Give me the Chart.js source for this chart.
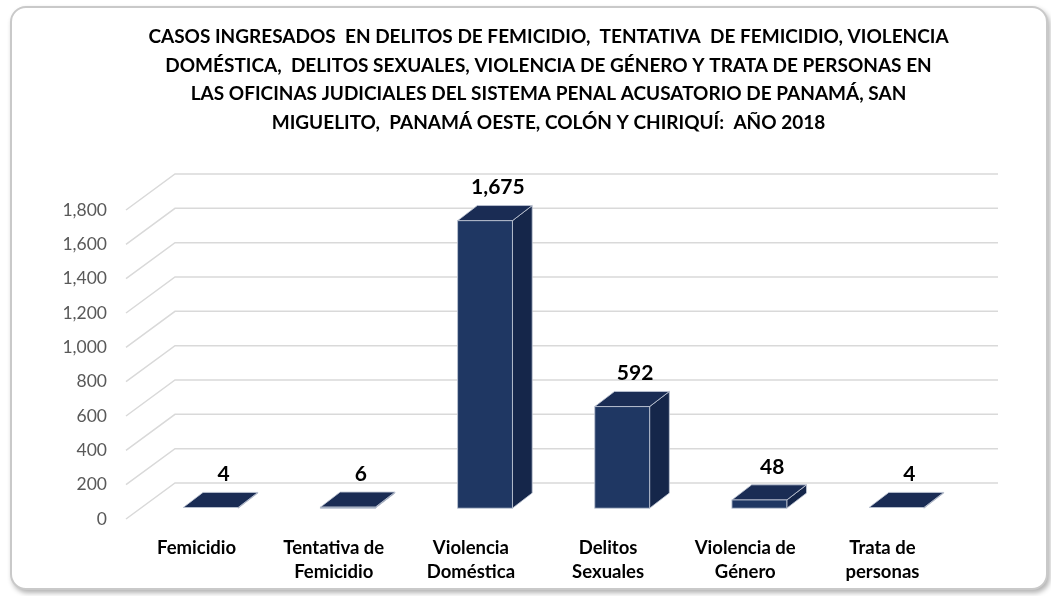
<!DOCTYPE html>
<html>
<head>
<meta charset="utf-8">
<script src="https://cdn.jsdelivr.net/npm/chart.js@4.4.0/dist/chart.umd.min.js"></script>
<style>
  body { margin: 0; background: #fff; }
  #card {
    position: absolute; left: 10px; top: 6px; width: 1034px; height: 580px;
    border: 2px solid #c9c9c9; border-radius: 16px;
    box-shadow: 2px 3px 5px rgba(0,0,0,0.3); background: #fff;
  }
  #chart { position: absolute; left: 0; top: 0; }
</style>
</head>
<body>
<div id="card"></div>
<canvas id="chart" width="1051" height="596"></canvas>
<script>
// datos
const categorias = [
  ['Femicidio'],
  ['Tentativa de', 'Femicidio'],
  ['Violencia', 'Doméstica'],
  ['Delitos', 'Sexuales'],
  ['Violencia de', 'Género'],
  ['Trata de', 'personas']
];
const casos = [4, 6, 1675, 592, 48, 4];
const yTicks = [0, 200, 400, 600, 800, 1000, 1200, 1400, 1600, 1800];
const titulo = [
  'CASOS INGRESADOS  EN DELITOS DE FEMICIDIO,  TENTATIVA  DE FEMICIDIO, VIOLENCIA',
  'DOMÉSTICA,  DELITOS SEXUALES, VIOLENCIA DE GÉNERO Y TRATA DE PERSONAS EN',
  'LAS OFICINAS JUDICIALES DEL SISTEMA PENAL ACUSATORIO DE PANAMÁ, SAN',
  'MIGUELITO,  PANAMÁ OESTE, COLÓN Y CHIRIQUÍ:  AÑO 2018'
];

// profundidad del efecto 3D
const depth = { dx: 47, dy: -36, front: 0.3, back: 0.72 };

const bar3d = {
  id: 'bar3d',
  beforeDatasetsDraw(chart) {
    const { ctx, chartArea: a, scales: { y } } = chart;
    ctx.save();
    ctx.strokeStyle = '#d9d9d9';
    ctx.lineWidth = 1.5;
    yTicks.forEach(v => {
      const py = y.getPixelForValue(v);
      ctx.beginPath();
      ctx.moveTo(a.left - 2, py);
      ctx.lineTo(a.left + depth.dx, py + depth.dy);
      ctx.lineTo(a.right + depth.dx, py + depth.dy);
      ctx.stroke();
    });
    ctx.restore();
  },
  afterDatasetsDraw(chart) {
    const { ctx } = chart;
    const meta = chart.getDatasetMeta(0);
    const fx = depth.dx * depth.front, fy = depth.dy * depth.front;
    const ddx = depth.dx * (depth.back - depth.front), ddy = depth.dy * (depth.back - depth.front);
    ctx.save();
    meta.data.forEach((el, i) => {
      const { x, y, base, width } = el.getProps(['x', 'y', 'base', 'width'], true);
      const l = x - width / 2 + fx, r = x + width / 2 + fx;
      const t = y + fy, b = base + fy;
      ctx.strokeStyle = 'rgba(190,198,212,0.85)';
      ctx.lineWidth = 1;
      // lado
      ctx.fillStyle = '#15264a';
      ctx.beginPath();
      ctx.moveTo(r, b); ctx.lineTo(r + ddx, b + ddy); ctx.lineTo(r + ddx, t + ddy); ctx.lineTo(r, t);
      ctx.closePath(); ctx.fill(); ctx.stroke();
      // tapa
      ctx.fillStyle = '#1a2c54';
      ctx.beginPath();
      ctx.moveTo(l, t); ctx.lineTo(r, t); ctx.lineTo(r + ddx, t + ddy); ctx.lineTo(l + ddx, t + ddy);
      ctx.closePath(); ctx.fill(); ctx.stroke();
      // frente
      if (b - t > 1) {
        ctx.fillStyle = '#1f3763';
        ctx.fillRect(l, t, r - l, b - t);
        ctx.strokeRect(l, t, r - l, b - t);
      }
      // etiqueta
      ctx.fillStyle = '#000';
      ctx.font = 'bold 21px Lato';
      ctx.textAlign = 'center';
      ctx.textBaseline = 'middle';
      ctx.fillText(casos[i].toLocaleString('en-US'), x + 27, t + ddy - 18);
    });
    ctx.restore();
  }
};

new Chart(document.getElementById('chart'), {
  type: 'bar',
  data: {
    labels: categorias,
    datasets: [{
      data: casos,
      backgroundColor: 'rgba(0,0,0,0)',
      borderWidth: 0,
      categoryPercentage: 1,
      barPercentage: 0.4
    }]
  },
  options: {
    responsive: false,
    animation: false,
    layout: { padding: { left: 46, right: 0, top: 0, bottom: 0 } },
    plugins: {
      legend: { display: false },
      tooltip: { enabled: false },
      title: {
        display: true,
        text: titulo,
        color: '#000',
        font: { family: 'Lato', size: 19, weight: 'bold', lineHeight: 1.5 },
        padding: { top: 23, bottom: 73 }
      }
    },
    scales: {
      x: {
        grid: { display: false, drawTicks: false },
        border: { display: false },
        ticks: {
          color: '#000',
          font: { family: 'Lato', size: 18.5, weight: 'bold', lineHeight: 1.3 },
          padding: 17, maxRotation: 0, autoSkip: false
        },
        afterFit(scale) { scale.height = 77; }
      },
      y: {
        min: 0, max: 1800,
        grid: { display: false, drawTicks: false },
        border: { display: false },
        afterBuildTicks(scale) { scale.ticks = yTicks.map(v => ({ value: v })); },
        ticks: {
          color: '#595959',
          font: { family: 'Lato', size: 17.5 },
          padding: 21,
          callback: v => v.toLocaleString('en-US')
        },
        afterFit(scale) { scale.width = 82; }
      },
      y2: {
        position: 'right',
        grid: { display: false, drawTicks: false },
        border: { display: false },
        ticks: { display: false },
        afterFit(scale) { scale.width = 100; }
      }
    }
  },
  plugins: [bar3d]
});
</script>
</body>
</html>
